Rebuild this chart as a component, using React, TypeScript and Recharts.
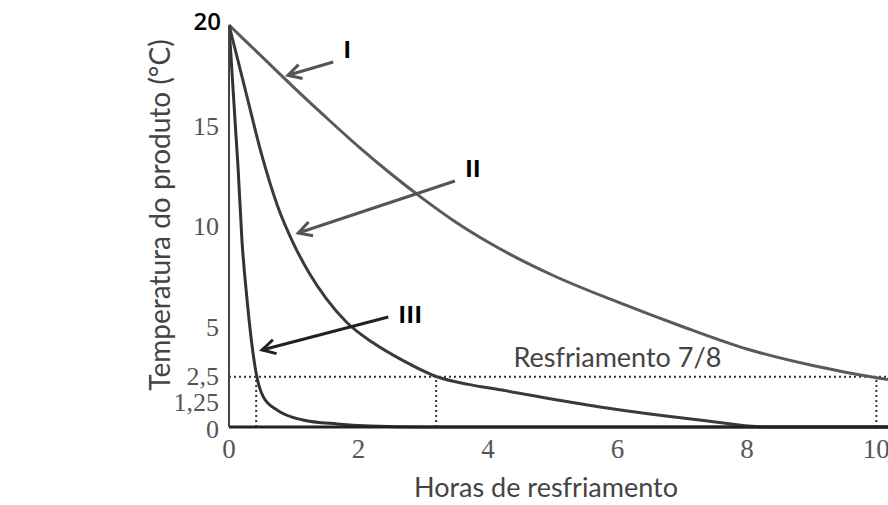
import { LineChart, Line, XAxis, YAxis, ReferenceLine, ReferenceDot, Label } from "recharts";

// hours of cooling -> product temperature (°C)
const CURVE_I = [
  { h: 0, t: 20 },
  { h: 0.5, t: 18.45 },
  { h: 1, t: 16.9 },
  { h: 1.5, t: 15.4 },
  { h: 2, t: 13.95 },
  { h: 2.5, t: 12.6 },
  { h: 3, t: 11.35 },
  { h: 3.5, t: 10.2 },
  { h: 4, t: 9.2 },
  { h: 5, t: 7.55 },
  { h: 6, t: 6.22 },
  { h: 7, t: 5.0 },
  { h: 8, t: 3.88 },
  { h: 9, t: 3.07 },
  { h: 10, t: 2.45 },
  { h: 10.18, t: 2.36 },
];

const CURVE_II = [
  { h: 0, t: 20 },
  { h: 0.25, t: 16.8 },
  { h: 0.5, t: 13.6 },
  { h: 0.75, t: 11.0 },
  { h: 1.0, t: 9.1 },
  { h: 1.25, t: 7.6 },
  { h: 1.5, t: 6.4 },
  { h: 1.82, t: 5.2 },
  { h: 2.22, t: 4.2 },
  { h: 2.69, t: 3.3 },
  { h: 3.21, t: 2.5 },
  { h: 3.7, t: 2.12 },
  { h: 4.19, t: 1.85 },
  { h: 5.73, t: 1.0 },
  { h: 7.27, t: 0.35 },
  { h: 8.3, t: 0 },
  { h: 10.18, t: 0 },
];

const CURVE_III = [
  { h: 0, t: 20 },
  { h: 0.11, t: 14.4 },
  { h: 0.14, t: 12.9 },
  { h: 0.2, t: 9.3 },
  { h: 0.28, t: 6.3 },
  { h: 0.37, t: 3.7 },
  { h: 0.43, t: 2.5 },
  { h: 0.53, t: 1.5 },
  { h: 0.74, t: 0.85 },
  { h: 1.14, t: 0.35 },
  { h: 1.67, t: 0.15 },
  { h: 2.18, t: 0.05 },
  { h: 3, t: 0 },
  { h: 10.18, t: 0 },
];

const HOUR_TICKS = [0, 2, 4, 6, 8, 10];
const TEMP_TICKS = [0, 1.25, 2.5, 5, 10, 15, 20];
const TEMP_LABELS: Record<number, string> = {
  0: "0",
  1.25: "1,25",
  2.5: "2,5",
  5: "5",
  10: "10",
  15: "15",
  20: "20",
};

// 7/8 cooling level and the hour each curve reaches it
const SEVEN_EIGHTHS = 2.5;
const SEVEN_EIGHTHS_HOURS = [0.42, 3.2, 10];

const ARROWS = [
  { label: "I", from: { h: 1.61, t: 18.16 }, to: { h: 0.91, t: 17.5 }, color: "#555" },
  { label: "II", from: { h: 3.49, t: 12.24 }, to: { h: 1.07, t: 9.65 }, color: "#555" },
  { label: "III", from: { h: 2.46, t: 5.47 }, to: { h: 0.51, t: 3.83 }, color: "#222" },
];

const SERIF = "'Liberation Serif', 'DejaVu Serif', serif";
const SANS = "Lato, 'Open Sans', sans-serif";

function TempTick({ x, y, payload }: any) {
  const v = payload.value;
  if (v === 20) {
    return (
      <text x={x + 2} y={y + 5} textAnchor="end" fontFamily="'Open Sans', sans-serif" fontWeight={600} fontSize={24} fill="#000">
        {TEMP_LABELS[v]}
      </text>
    );
  }
  const dy = v === 0 ? 11 : v === 2.5 ? 8 : 9;
  return (
    <text x={x} y={y + dy} textAnchor="end" fontFamily={SERIF} fontSize={26} fill="#555">
      {TEMP_LABELS[v] ?? v}
    </text>
  );
}

function HourTick({ x, y, payload }: any) {
  return (
    <text x={x} y={y + 23} textAnchor="middle" fontFamily={SERIF} fontSize={27} fill="#555">
      {payload.value}
    </text>
  );
}

function arrowShape(label: string, color: string) {
  return (p: any) => {
    const { x1, y1, x2, y2 } = p;
    const ang = Math.atan2(y2 - y1, x2 - x1);
    const len = 15;
    const spread = 0.5;
    const ax = x2 - len * Math.cos(ang - spread);
    const ay = y2 - len * Math.sin(ang - spread);
    const bx = x2 - len * Math.cos(ang + spread);
    const by = y2 - len * Math.sin(ang + spread);
    return (
      <g>
        <line x1={x1} y1={y1} x2={x2} y2={y2} stroke={color} strokeWidth={3} />
        <polyline points={`${ax},${ay} ${x2},${y2} ${bx},${by}`} fill="none" stroke={color} strokeWidth={3} strokeLinejoin="miter" />
        <text x={x1 + 10} y={y1 + (label === "III" ? 6 : -4)} fontFamily="'Open Sans', sans-serif" fontWeight={700} fontSize={24} fill="#000">
          {label}
        </text>
      </g>
    );
  };
}

export default function App() {
  return (
    <div>
      <style>{"body{margin:0}"}</style>
      <LineChart width={888} height={505} margin={{ top: 25, right: 0, bottom: 0, left: 0 }}>
        <XAxis
          dataKey="h"
          type="number"
          domain={[0, 10.18]}
          ticks={HOUR_TICKS}
          allowDataOverflow
          height={78}
          tickLine={false}
          axisLine={{ stroke: "#222", strokeWidth: 3 }}
          tick={<HourTick />}
          label={
            <Label
              content={({ viewBox }: any) => (
                <text x={viewBox.x + 317} y={viewBox.y + 70} textAnchor="middle" fontFamily={SANS} fontSize={27} fill="#444">
                  Horas de resfriamento
                </text>
              )}
            />
          }
        />
        <YAxis
          dataKey="t"
          type="number"
          domain={[0, 20]}
          ticks={TEMP_TICKS}
          width={229}
          tickLine={false}
          tickMargin={4}
          axisLine={{ stroke: "#444", strokeWidth: 2 }}
          tick={<TempTick />}
          label={
            <Label
              content={() => (
                <text
                  x={170}
                  y={215}
                  transform="rotate(-90 170 215)"
                  textAnchor="middle"
                  fontFamily={SANS}
                  fontSize={28}
                  fill="#444"
                >
                  Temperatura do produto (°C)
                </text>
              )}
            />
          }
        />
        <ReferenceLine y={SEVEN_EIGHTHS} stroke="#333" strokeWidth={2} strokeDasharray="2 3" />
        {SEVEN_EIGHTHS_HOURS.map((h) => (
          <ReferenceLine
            key={h}
            segment={[{ x: h, y: 0 }, { x: h, y: SEVEN_EIGHTHS }]}
            stroke="#333"
            strokeWidth={2}
            strokeDasharray="2 3"
          />
        ))}
        <ReferenceDot
          x={6}
          y={SEVEN_EIGHTHS}
          r={0}
          shape={(p: any) => (
            <text x={p.cx} y={p.cy - 10} textAnchor="middle" fontFamily={SANS} fontSize={27} fill="#444">
              Resfriamento 7/8
            </text>
          )}
        />
        <Line data={CURVE_I} dataKey="t" type="monotone" stroke="#5a5a5a" strokeWidth={3} dot={false} isAnimationActive={false} />
        <Line data={CURVE_II} dataKey="t" type="monotone" stroke="#3a3a3a" strokeWidth={3} dot={false} isAnimationActive={false} />
        <Line data={CURVE_III} dataKey="t" type="monotone" stroke="#333" strokeWidth={3} dot={false} isAnimationActive={false} />
        {ARROWS.map((a) => (
          <ReferenceLine
            key={a.label}
            segment={[{ x: a.from.h, y: a.from.t }, { x: a.to.h, y: a.to.t }]}
            shape={arrowShape(a.label, a.color)}
          />
        ))}
      </LineChart>
    </div>
  );
}
